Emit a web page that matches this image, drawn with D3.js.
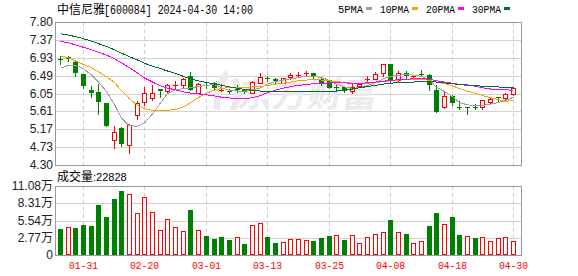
<!DOCTYPE html>
<html><head><meta charset="utf-8">
<script src="https://cdn.jsdelivr.net/npm/d3@7"></script>
<style>body{margin:0;background:#fff}svg{display:block}</style>
</head><body><svg id="c" width="578" height="276"></svg>
<script>
const dates = ["01-26","01-29","01-30","01-31","02-01","02-02","02-05","02-06","02-07","02-08",
"02-19","02-20","02-21","02-22","02-23","02-26","02-27","02-28","02-29","03-01",
"03-04","03-05","03-06","03-07","03-08","03-11","03-12","03-13","03-14","03-15",
"03-18","03-19","03-20","03-21","03-22","03-25","03-26","03-27","03-28","03-29",
"04-01","04-02","04-03","04-08","04-09","04-10","04-11","04-12","04-15","04-16",
"04-17","04-18","04-19","04-22","04-23","04-24","04-25","04-26","04-29","04-30"];
const open  = [6.89,6.95,6.82,6.53,6.13,6.09,5.82,4.90,5.21,4.80, 5.52,5.83,5.95,6.17,6.10,6.26,6.27,6.49,6.06,6.26,
               6.31,6.13,6.12,6.17,6.13,6.07,6.31,6.42,6.41,6.31, 6.45,6.50,6.53,6.54,6.41,6.37,6.20,6.21,6.10,6.23,
               6.39,6.41,6.54,6.76,6.37,6.54,6.45,6.52,6.51,6.13, 5.72,6.00,5.72,5.73,5.71,5.71,5.83,5.96,5.95,6.03];
const close = [6.88,6.90,6.54,6.23,6.07,5.83,5.26,5.11,4.81,5.29, 5.82,6.06,6.06,6.10,6.25,6.27,6.40,6.14,6.29,6.25,
               6.19,6.14,6.11,6.13,6.09,6.33,6.45,6.41,6.35,6.42, 6.51,6.51,6.54,6.45,6.31,6.19,6.19,6.10,6.21,6.28,
               6.40,6.53,6.76,6.35,6.54,6.47,6.49,6.51,6.25,5.60, 6.00,5.82,5.71,5.72,5.70,5.88,5.92,5.95,6.04,6.18];
const high  = [6.96,6.96,6.84,6.53,6.23,6.29,5.82,5.25,5.24,5.30, 5.87,6.20,6.27,6.17,6.28,6.35,6.43,6.58,6.31,6.31,
               6.33,6.28,6.17,6.25,6.17,6.36,6.55,6.48,6.43,6.43, 6.54,6.58,6.60,6.56,6.45,6.39,6.25,6.21,6.29,6.31,
               6.47,6.58,6.76,6.76,6.59,6.59,6.51,6.62,6.53,6.27, 6.10,6.02,5.86,5.73,5.80,5.88,5.96,5.96,6.07,6.19];
const low   = [6.76,6.84,6.48,6.19,5.96,5.56,5.26,4.72,4.77,4.60, 5.43,5.76,5.89,5.96,6.07,6.19,6.22,6.14,6.06,6.19,
               6.14,6.10,6.07,6.09,6.06,6.06,6.31,6.35,6.28,6.30, 6.41,6.49,6.48,6.43,6.27,6.19,6.11,6.09,6.06,6.21,
               6.33,6.40,6.48,6.33,6.35,6.43,6.41,6.48,6.14,5.60, 5.69,5.78,5.66,5.56,5.66,5.68,5.80,5.84,5.91,6.02];
const prevClose0 = 6.95;
// volume in 万手
const volume = [4.18,4.44,4.34,4.82,4.66,8.03,6.10,8.99,10.28,9.80, 6.69,9.26,6.85,3.96,5.73,4.55,3.80,7.23,4.01,3.05,
                2.57,2.89,2.41,2.84,1.77,4.76,5.09,2.89,1.93,2.09, 2.52,2.52,2.41,2.25,2.73,3.05,3.16,2.41,3.16,1.93,
                2.84,3.37,3.69,5.62,3.69,3.37,1.93,2.25,4.66,6.74, 4.98,6.10,3.21,3.00,2.73,2.84,2.25,2.68,2.84,2.28];
const ma5  = [6.67,6.74,6.74,6.66,6.50,6.33,6.10,5.78,5.45,5.26, 5.25,5.33,5.55,5.82,6.05,6.14,6.17,6.19,6.22,6.25,
              6.27,6.19,6.12,6.11,6.11,6.14,6.19,6.28,6.34,6.38, 6.41,6.44,6.47,6.47,6.44,6.37,6.28,6.21,6.18,6.19,
              6.24,6.32,6.41,6.47,6.50,6.51,6.50,6.47,6.38,6.20, 6.10,5.97,5.83,5.77,5.76,5.76,5.79,5.83,5.88,5.96];
const ma10 = [6.97,6.92,6.85,6.76,6.68,6.58,6.46,6.32,6.12,5.92, 5.76,5.68,5.64,5.64,5.64,5.66,5.72,5.82,5.95,6.06,
              6.13,6.18,6.19,6.20,6.20,6.21,6.22,6.25,6.28,6.30, 6.33,6.36,6.38,6.39,6.38,6.36,6.34,6.32,6.30,6.29,
              6.30,6.32,6.34,6.36,6.38,6.39,6.40,6.40,6.37,6.33, 6.29,6.24,6.17,6.11,6.05,6.00,5.95,5.90,5.86,5.88];
const ma20 = [7.33,7.29,7.24,7.18,7.12,7.06,6.99,6.90,6.80,6.68, 6.55,6.43,6.33,6.24,6.18,6.14,6.09,6.06,6.04,6.02,
              5.99,5.96,5.94,5.92,5.92,5.95,6.00,6.07,6.13,6.18, 6.22,6.25,6.27,6.29,6.30,6.31,6.31,6.31,6.30,6.30,
              6.31,6.33,6.35,6.37,6.39,6.40,6.41,6.41,6.40,6.36, 6.33,6.30,6.27,6.25,6.23,6.19,6.16,6.15,6.14,6.13];
const ma30 = [7.51,7.48,7.44,7.39,7.33,7.27,7.20,7.12,7.04,6.95, 6.87,6.79,6.72,6.66,6.60,6.54,6.47,6.41,6.36,6.32,
              6.28,6.25,6.21,6.18,6.15,6.13,6.11,6.10,6.10,6.10, 6.10,6.10,6.10,6.10,6.10,6.10,6.11,6.13,6.16,6.19,
              6.22,6.25,6.28,6.30,6.32,6.33,6.33,6.34,6.34,6.33, 6.31,6.29,6.27,6.26,6.24,6.23,6.22,6.21,6.20,6.20];
const priceTicks = [7.80,7.37,6.93,6.49,6.05,5.61,5.17,4.73,4.30];
const priceTickLabels = ["7.80","7.37","6.93","6.49","6.05","5.61","5.17","4.73","4.30"];
const volTicks = [0,2.77,5.54,8.31,11.08];
const volTickLabels = ["0","2.77万","5.54万","8.31万","11.08万"];
const dateLabels = ["01-31","02-20","03-01","03-13","03-25","04-08","04-18","04-30"];
const titleName = "中信尼雅";
const titleCode = "[600084] 2024-04-30 14:00";
const volTitle = "成交量";
const lastVolume = "22828";
const maNames = ["5PMA","10PMA","20PMA","30PMA"];

const UP = "#ff0000", DOWN = "#008000";
const maColors = ["#a0a0a0","#f5a300","#ff00ff","#006e30"];
const L = 55, R = 522, PT = 22, PB = 165, VT = 186, VB = 255;

const svg = d3.select("#c");
const x = d3.scaleBand().domain(dates).range([56, 517]).paddingInner(0);
const cx = d => Math.round(x(d) + x.bandwidth() / 2);
const y = d3.scaleLinear().domain([4.30, 7.80]).range([PB, PT]);
const yv = d3.scaleLinear().domain([0, 11.08]).range([VB, VT]);

// header
svg.append("text").attr("x", 57).attr("y", 14).attr("font-family", "Noto Sans CJK SC")
  .attr("font-size", 12).attr("fill", "#000").text(titleName);
svg.append("text").attr("x", 104).attr("y", 14).attr("font-family", "Liberation Mono")
  .attr("font-size", 12).attr("fill", "#000").attr("textLength", 149)
  .attr("lengthAdjust", "spacingAndGlyphs").text(titleCode);

const legX = [338, 380, 426, 472], legW = [25, 29, 29, 29];
maNames.forEach((n, k) => {
  svg.append("text").attr("x", legX[k]).attr("y", 13).attr("font-family", "Liberation Mono")
    .attr("font-size", 11).attr("fill", "#000").attr("textLength", legW[k])
    .attr("lengthAdjust", "spacingAndGlyphs").text(n);
  svg.append("rect").attr("x", legX[k] + legW[k] + 3).attr("y", 7).attr("width", 6).attr("height", 3)
    .attr("fill", maColors[k]);
});

// grids
const g = svg.append("g").attr("shape-rendering", "crispEdges");
priceTicks.forEach(t => {
  g.append("line").attr("x1", L).attr("x2", R).attr("y1", Math.round(y(t)) + 0.5).attr("y2", Math.round(y(t)) + 0.5)
    .attr("stroke", "#d2d2d2");
});
volTicks.forEach(t => {
  g.append("line").attr("x1", L).attr("x2", R).attr("y1", Math.round(yv(t)) + 0.5).attr("y2", Math.round(yv(t)) + 0.5)
    .attr("stroke", "#d2d2d2");
});
dateLabels.forEach(d => {
  const xx = cx(d) + 0.5;
  g.append("line").attr("x1", xx).attr("x2", xx).attr("y1", PT).attr("y2", PB).attr("stroke", "#cfcfcf").attr("stroke-dasharray", "4,3");
  g.append("line").attr("x1", xx).attr("x2", xx).attr("y1", VT).attr("y2", VB).attr("stroke", "#cfcfcf").attr("stroke-dasharray", "4,3");
});

// watermark
const wm = svg.append("g").attr("fill", "#ebebef");
wm.append("path").attr("d", "M226,70 C216,80 212,96 214,110 L221,110 C219,98 222,86 230,76 Z M231,80 C236,86 236,98 229,110 L236,110 C243,98 243,86 237,78 Z");
wm.append("text").attr("x", 236).attr("y", 107).attr("font-family", "Noto Sans CJK SC").attr("font-weight", "bold")
  .attr("font-size", 35).attr("transform", "skewX(-10) translate(19,0)").text("东方财富");

// frames
g.append("rect").attr("x", L + 0.5).attr("y", PT + 0.5).attr("width", R - L - 1).attr("height", PB - PT)
  .attr("fill", "none").attr("stroke", "#999");
g.append("rect").attr("x", L + 0.5).attr("y", VT + 0.5).attr("width", R - L - 1).attr("height", VB - VT)
  .attr("fill", "none").attr("stroke", "#999");

// axis labels
priceTicks.forEach((t, k) => {
  svg.append("text").attr("x", 53).attr("y", y(t) + 4).attr("text-anchor", "end")
    .attr("font-family", "Liberation Sans").attr("font-size", 12).attr("fill", "#222").text(priceTickLabels[k]);
});
volTicks.forEach((t, k) => {
  svg.append("text").attr("x", 53).attr("y", yv(t) + 4).attr("text-anchor", "end")
    .attr("font-family", "Liberation Sans, Noto Sans CJK SC").attr("font-size", 12).attr("fill", "#222").text(volTickLabels[k]);
});
dateLabels.forEach(d => {
  svg.append("text").attr("x", cx(d) + 0.5).attr("y", 269).attr("text-anchor", "middle")
    .attr("font-family", "Liberation Mono").attr("font-size", 11).attr("fill", UP)
    .attr("textLength", 29).attr("lengthAdjust", "spacingAndGlyphs").text(d);
});
const vt = svg.append("text").attr("x", 57).attr("y", 181).attr("fill", "#000");
vt.append("tspan").attr("font-family", "Noto Sans CJK SC").attr("font-size", 12).text(volTitle);
vt.append("tspan").attr("font-family", "Liberation Sans").attr("font-size", 11).text(":" + lastVolume);

// candles
const cg = svg.append("g").attr("shape-rendering", "crispEdges");
dates.forEach((d, i) => {
  const c = cx(d);
  const up = close[i] > open[i];
  const col = up ? UP : DOWN;
  const yT = Math.round(y(Math.max(open[i], close[i])));
  const yB = Math.round(y(Math.min(open[i], close[i])));
  cg.append("line").attr("x1", c + 0.5).attr("x2", c + 0.5).attr("y1", Math.round(y(high[i])))
    .attr("y2", Math.round(y(low[i])) + 1).attr("stroke", col);
  if (up && yB - yT >= 2) {
    cg.append("rect").attr("x", c - 1.5).attr("y", yT + 0.5).attr("width", 4).attr("height", yB - yT)
      .attr("fill", "#fff").attr("stroke", col);
  } else {
    cg.append("rect").attr("x", c - 2).attr("y", yT).attr("width", 5).attr("height", Math.max(1, yB - yT))
      .attr("fill", col);
  }
});

// moving averages
const line = d3.line().x((v, i) => cx(dates[i]) + 0.5).y(v => y(v));
[ma5, ma10, ma20, ma30].forEach((arr, k) => {
  svg.append("path").attr("d", line(arr)).attr("fill", "none").attr("stroke", maColors[k])
    .attr("stroke-width", 1).attr("shape-rendering", "crispEdges");
});

// volume bars
const vg = svg.append("g").attr("shape-rendering", "crispEdges");
dates.forEach((d, i) => {
  const c = cx(d);
  const pc = i === 0 ? prevClose0 : close[i - 1];
  const up = close[i] >= pc;
  const top = Math.round(yv(volume[i]));
  if (up) {
    vg.append("rect").attr("x", c - 1.5).attr("y", top + 0.5).attr("width", 4).attr("height", VB - top - 1)
      .attr("fill", "#fff").attr("stroke", UP);
  } else {
    vg.append("rect").attr("x", c - 2).attr("y", top).attr("width", 5).attr("height", VB - top).attr("fill", DOWN);
  }
});
</script></body></html>
